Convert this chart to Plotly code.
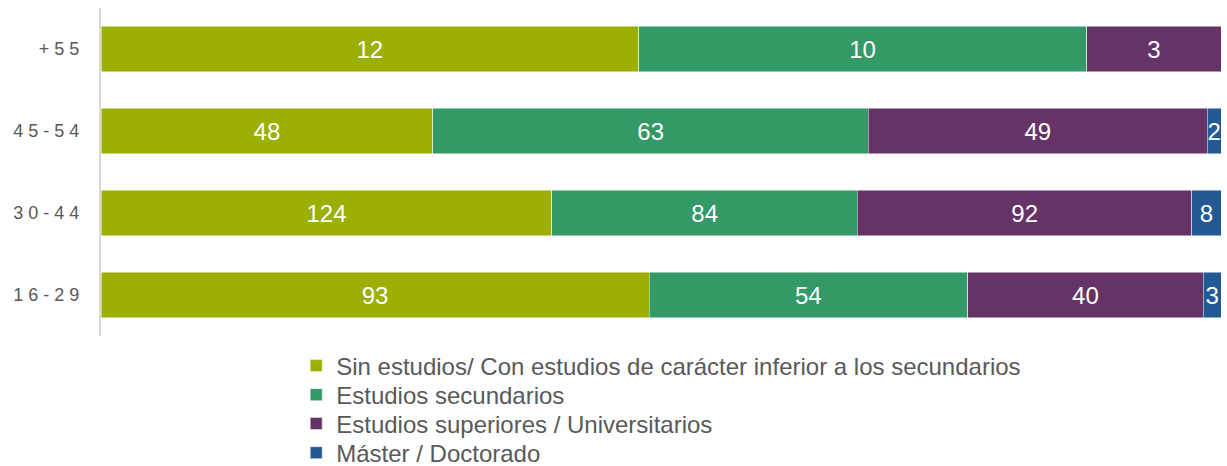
import plotly.graph_objects as go

# Age groups, bottom to top
age_groups = ["1 6 - 2 9", "3 0 - 4 4", "4 5 - 5 4", "+ 5 5"]

# Counts per education level
sin_estudios = [93, 124, 48, 12]
secundarios = [54, 84, 63, 10]
superiores = [40, 92, 49, 3]
master = [3, 8, 2, 0]

series_names = [
    "Sin estudios/ Con estudios de carácter inferior a los secundarios",
    "Estudios secundarios",
    "Estudios superiores / Universitarios",
    "Máster / Doctorado",
]
series_values = [sin_estudios, secundarios, superiores, master]
series_colors = ["#9BAF05", "#339966", "#663366", "#235A96"]

# One legend per series so the rows can be stacked tightly
legend_ids = ["legend", "legend2", "legend3", "legend4"]
legend_rows_y = [-0.0915, -0.180, -0.268, -0.357]

fig = go.Figure()
for name, vals, color, lid in zip(series_names, series_values, series_colors, legend_ids):
    fig.add_trace(go.Bar(
        y=age_groups,
        x=vals,
        name=name,
        orientation="h",
        legend=lid,
        marker=dict(color=color, line=dict(color="rgba(255,255,255,0.6)", width=0.8)),
        text=[str(v) if v else "" for v in vals],
        textposition="inside",
        insidetextanchor="middle",
        textangle=0,
        constraintext="none",
        textfont=dict(color="white", size=24, family="Liberation Sans, Arial"),
        hoverinfo="skip",
    ))

legend_style = dict(
    orientation="v",
    x=0.1743,
    xanchor="left",
    yanchor="middle",
    font=dict(size=24, color="#595959"),
    bgcolor="rgba(0,0,0,0)",
)

fig.update_layout(
    barmode="stack",
    barnorm="fraction",
    bargap=0.45,
    width=1227,
    height=466,
    margin=dict(l=101, r=6, t=8, b=130, autoexpand=False),
    paper_bgcolor="white",
    plot_bgcolor="white",
    font=dict(family="Liberation Sans, Arial", color="#595959"),
    showlegend=True,
    xaxis=dict(
        range=[0, 1],
        showgrid=False,
        zeroline=False,
        showticklabels=False,
        showline=False,
    ),
    yaxis=dict(
        showgrid=False,
        zeroline=False,
        showline=True,
        linecolor="#D9D9D9",
        linewidth=2,
        ticks="",
        ticklabelstandoff=16,
        tickfont=dict(size=18, color="#595959"),
    ),
)
for lid, ly in zip(legend_ids, legend_rows_y):
    fig.update_layout({lid: dict(legend_style, y=ly)})

fig.write_html("out.html")
